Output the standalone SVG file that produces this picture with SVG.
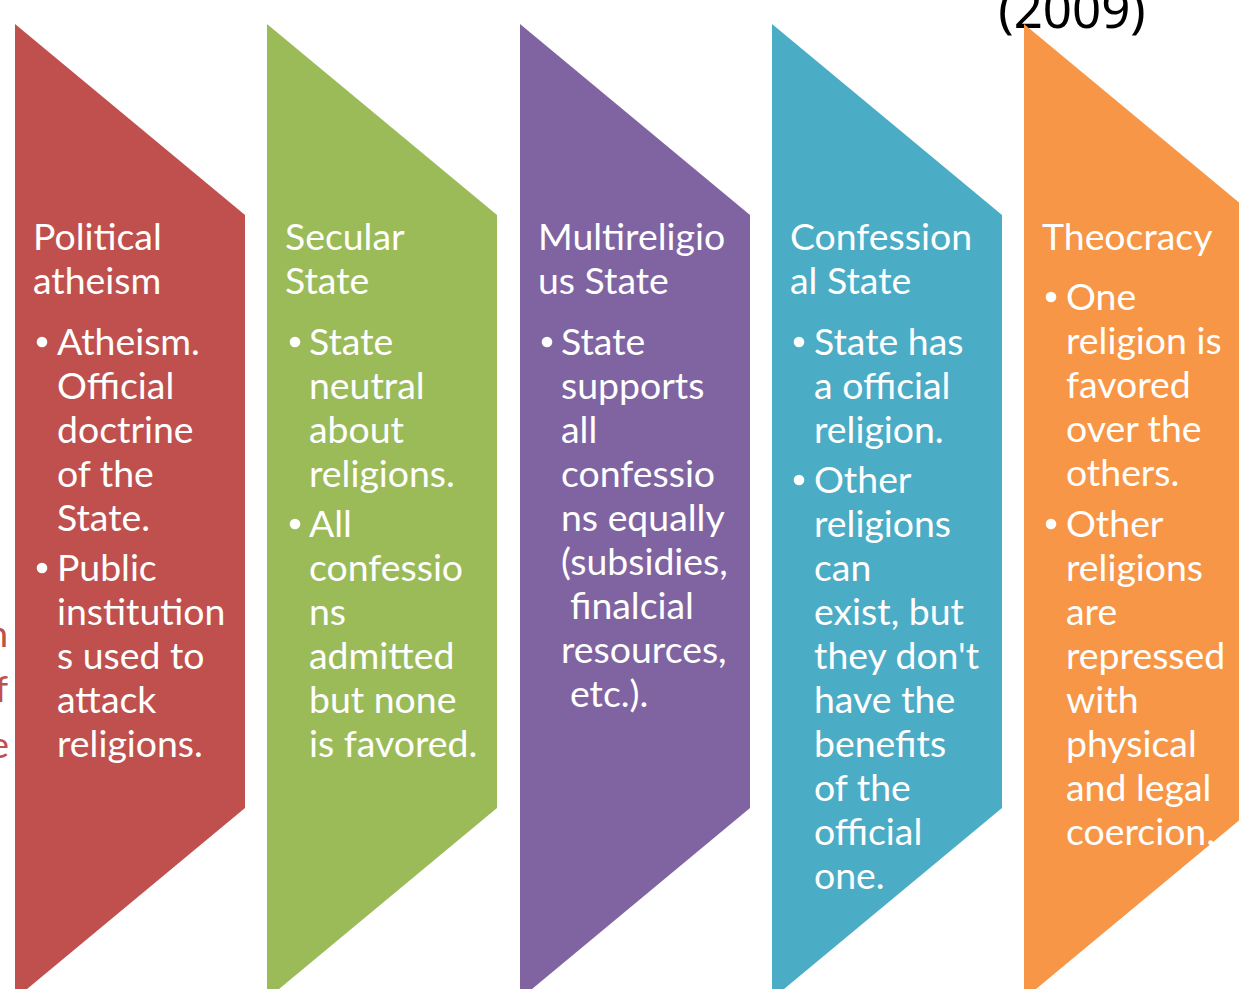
<svg xmlns="http://www.w3.org/2000/svg" width="1239" height="989" viewBox="0 0 1239 989">
  <defs>
    <style>
      .band { stroke: none; }
      .t { font-family: Lato, "Liberation Sans", sans-serif; font-size: 37.4px; fill: #ffffff; }
      .dot { fill: #ffffff; }
      .year { font-family: "Noto Sans", "Liberation Sans", sans-serif; font-size: 51px; fill: #000000; }
      .edge { font-family: Lato, "Liberation Sans", sans-serif; font-size: 37.4px; fill: #C0504D; }
    </style>
  </defs>
  <rect width="1239" height="989" fill="#ffffff"/>

  <!-- text cut off at the left border -->
  <g id="left-fragment">
    <text class="edge" x="8" y="647" text-anchor="end">n</text>
    <text class="edge" x="8" y="702" text-anchor="end">f</text>
    <text class="edge" x="9" y="758" text-anchor="end">e</text>
  </g>

  <!-- year label cut off at the top border -->
  <text class="year" x="1072" y="28" text-anchor="middle">(2009)</text>

  <!-- Political atheism -->
  <g id="political-atheism">
    <polygon class="band" fill="#C0504D" points="15,24 245,215 245,808 15,999"/>
    <text class="t" x="33" y="250">Political</text>
    <text class="t" x="33" y="294">atheism</text>
    <circle class="dot" cx="42" cy="342" r="5.3"/>
    <text class="t" x="57" y="355">Atheism.</text>
    <text class="t" x="57" y="399">Official</text>
    <text class="t" x="57" y="443">doctrine</text>
    <text class="t" x="57" y="487">of the</text>
    <text class="t" x="57" y="531">State.</text>
    <circle class="dot" cx="42" cy="568" r="5.3"/>
    <text class="t" x="57" y="581">Public</text>
    <text class="t" x="57" y="625">institution</text>
    <text class="t" x="57" y="669">s used to</text>
    <text class="t" x="57" y="713">attack</text>
    <text class="t" x="57" y="757">religions.</text>
  </g>

  <!-- Secular State -->
  <g id="secular-state">
    <polygon class="band" fill="#9BBB59" points="267,24 497,215 497,808 267,999"/>
    <text class="t" x="285" y="250">Secular</text>
    <text class="t" x="285" y="294">State</text>
    <circle class="dot" cx="295" cy="342" r="5.3"/>
    <text class="t" x="309" y="355">State</text>
    <text class="t" x="309" y="399">neutral</text>
    <text class="t" x="309" y="443">about</text>
    <text class="t" x="309" y="487">religions.</text>
    <circle class="dot" cx="295" cy="524" r="5.3"/>
    <text class="t" x="309" y="537">All</text>
    <text class="t" x="309" y="581">confessio</text>
    <text class="t" x="309" y="625">ns</text>
    <text class="t" x="309" y="669">admitted</text>
    <text class="t" x="309" y="713">but none</text>
    <text class="t" x="309" y="757">is favored.</text>
  </g>

  <!-- Multireligious State -->
  <g id="multireligious-state">
    <polygon class="band" fill="#8064A2" points="520,24 750,215 750,808 520,999"/>
    <text class="t" x="538" y="250">Multireligio</text>
    <text class="t" x="538" y="294">us State</text>
    <circle class="dot" cx="547" cy="342" r="5.3"/>
    <text class="t" x="561" y="355">State</text>
    <text class="t" x="561" y="399">supports</text>
    <text class="t" x="561" y="443">all</text>
    <text class="t" x="561" y="487">confessio</text>
    <text class="t" x="561" y="531">ns equally</text>
    <text class="t" x="561" y="575">(subsidies,</text>
    <text class="t" x="570" y="619">finalcial</text>
    <text class="t" x="561" y="663">resources,</text>
    <text class="t" x="570" y="707">etc.).</text>
  </g>

  <!-- Confessional State -->
  <g id="confessional-state">
    <polygon class="band" fill="#4BACC6" points="772,24 1002,215 1002,808 772,999"/>
    <text class="t" x="790" y="250">Confession</text>
    <text class="t" x="790" y="294">al State</text>
    <circle class="dot" cx="799" cy="342" r="5.3"/>
    <text class="t" x="814" y="355">State has</text>
    <text class="t" x="814" y="399">a official</text>
    <text class="t" x="814" y="443">religion.</text>
    <circle class="dot" cx="799" cy="480" r="5.3"/>
    <text class="t" x="814" y="493">Other</text>
    <text class="t" x="814" y="537">religions</text>
    <text class="t" x="814" y="581">can</text>
    <text class="t" x="814" y="625">exist, but</text>
    <text class="t" x="814" y="669">they don't</text>
    <text class="t" x="814" y="713">have the</text>
    <text class="t" x="814" y="757">benefits</text>
    <text class="t" x="814" y="801">of the</text>
    <text class="t" x="814" y="845">official</text>
    <text class="t" x="814" y="889">one.</text>
  </g>

  <!-- Theocracy -->
  <g id="theocracy">
    <polygon class="band" fill="#F79646" points="1024,24 1254,215 1254,808 1024,999"/>
    <text class="t" x="1042" y="250">Theocracy</text>
    <circle class="dot" cx="1051" cy="297" r="5.3"/>
    <text class="t" x="1066" y="310">One</text>
    <text class="t" x="1066" y="354">religion is</text>
    <text class="t" x="1066" y="398">favored</text>
    <text class="t" x="1066" y="442">over the</text>
    <text class="t" x="1066" y="486">others.</text>
    <circle class="dot" cx="1051" cy="524" r="5.3"/>
    <text class="t" x="1066" y="537">Other</text>
    <text class="t" x="1066" y="581">religions</text>
    <text class="t" x="1066" y="625">are</text>
    <text class="t" x="1066" y="669">repressed</text>
    <text class="t" x="1066" y="713">with</text>
    <text class="t" x="1066" y="757">physical</text>
    <text class="t" x="1066" y="801">and legal</text>
    <text class="t" x="1066" y="845">coercion.</text>
  </g>
</svg>
